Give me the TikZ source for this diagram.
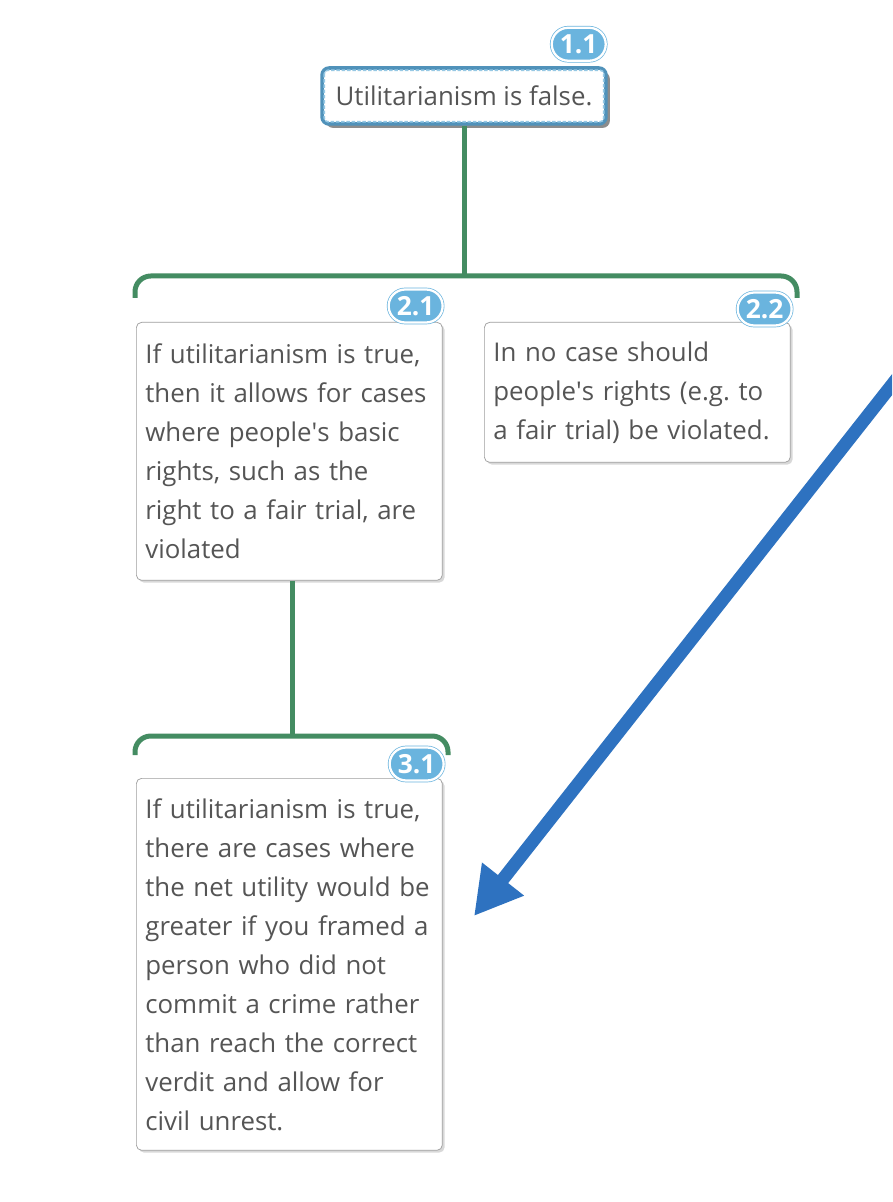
\documentclass[tikz,border=0pt]{standalone}
\usepackage{fontspec}
\setmainfont{Open Sans}
\usetikzlibrary{arrows.meta,positioning,shadows}
\definecolor{linkgreen}{RGB}{68,140,98}
\definecolor{badgeblue}{RGB}{106,180,222}
\definecolor{selblue}{RGB}{80,146,186}
\definecolor{dashblue}{RGB}{150,200,228}
\definecolor{arrowblue}{RGB}{46,114,192}
\definecolor{textgray}{RGB}{85,85,85}
\frenchspacing

\begin{document}
\begin{tikzpicture}[
   x=0.02cm, y=-0.02cm,
   claim/.style={draw=black!38, fill=white, rounded corners=3pt, anchor=north west,
      align=left, text width=5.76cm, inner xsep=0.18cm, text=textgray,
      font=\fontsize{14.7}{22.2}\selectfont,
      drop shadow={shadow xshift=1.3pt, shadow yshift=-1.3pt, opacity=0.3}},
   mainclaim/.style={draw=selblue, line width=2pt, fill=white, rounded corners=4pt,
      minimum width=5.68cm, minimum height=1.12cm, text=textgray,
      font=\fontsize{14.7}{22.2}\selectfont,
      drop shadow={shadow xshift=2.2pt, shadow yshift=-2.2pt, opacity=0.9}},
   innerdash/.style={dashed, dash pattern=on 2pt off 1pt, dashblue, line width=0.9pt,
      rounded corners=2pt},
   badge/.style={fill=badgeblue, draw=badgeblue, double=white, double distance=1.3pt,
      rounded corners=0.33cm, minimum width=1.08cm, minimum height=0.66cm, inner sep=0pt,
      text=white, font=\fontsize{15}{16}\selectfont\bfseries},
   link/.style={linkgreen, line width=0.1cm, rounded corners=9pt},
   bigarrow/.style={arrowblue, line width=0.26cm,
      -{Triangle[length=0.94cm, width=1.0cm]}}
]
\useasboundingbox (0,0) rectangle (892,1202);
\clip (0,0) rectangle (892,1202);
\fill[white] (0,0) rectangle (892,1202);

% claims
\node[mainclaim] (c11) at (464,96) {Utilitarianism is false.};
\draw[innerdash] ([shift={(4,4)}]c11.north west) rectangle ([shift={(-4,-4)}]c11.south east);
\node[claim, minimum height=5.16cm] (c21) at (136,322)
   {If utilitarianism is true,\\then it allows for cases\\where people\textquotesingle s basic\\rights, such as the\\right to a fair trial, are\\violated};
\node[claim, minimum height=2.8cm] (c22) at (484,322)
   {In no case should\\people\textquotesingle s rights (e.g. to\\a fair trial) be violated.};
\node[claim, minimum height=7.44cm] (c31) at (136,778)
   {If utilitarianism is true,\\there are cases where\\the net utility would be\\greater if you framed a\\person who did not\\commit a crime rather\\than reach the correct\\verdit and allow for\\civil unrest.};

% badges
\node[badge] (n11) at ([shift={(-29,-22)}]c11.north east) {1.1};
\node[badge] (n21) at ([shift={(-27,-16)}]c21.north east) {2.1};
\node[badge] (n22) at ([shift={(-26,-13)}]c22.north east) {2.2};
\node[badge] (n31) at ([shift={(-26,-14)}]c31.north east) {3.1};

% brackets
\coordinate (bar1) at (464,276);
\coordinate (b1l) at (135,298);
\coordinate (b1r) at (797,298);
\coordinate (bar2) at (292,736);
\coordinate (b2l) at (135,755);
\coordinate (b2r) at (448,755);
\draw[link] (c11.south) -- (bar1);
\draw[link] (b1l) |- (bar1) -| (b1r);
\draw[link] (c21.south -| bar2) -- (bar2);
\draw[link] (b2l) |- (bar2) -| (b2r);

% pointer
\coordinate (aout) at (902,372);
\coordinate (atip) at (474,916);
\draw[bigarrow] (aout) -- (atip);
\end{tikzpicture}
\end{document}
